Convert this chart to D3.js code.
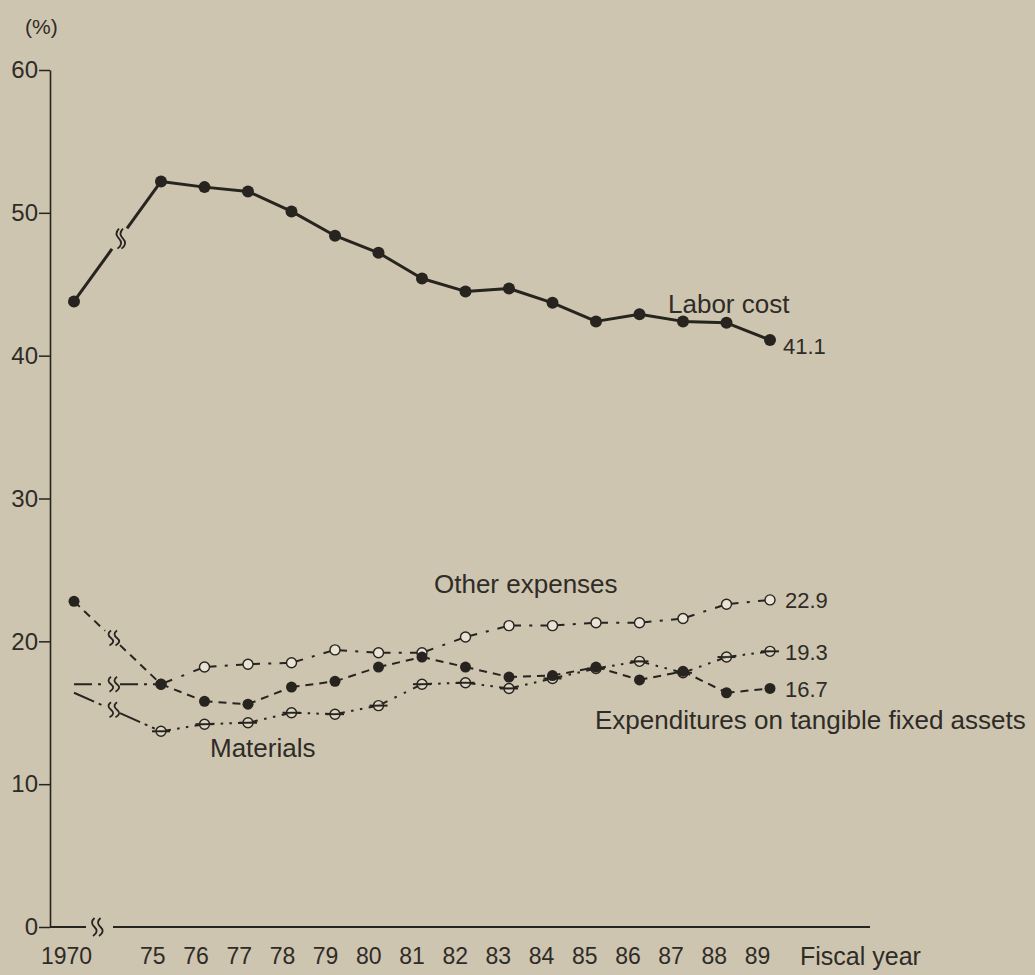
<!DOCTYPE html>
<html>
<head>
<meta charset="utf-8">
<script src="https://cdn.jsdelivr.net/npm/d3@7"></script>
<style>body{margin:0;background:#cdc5b0;}</style>
</head>
<body>
<svg id="chart" width="1035" height="975"></svg>
<script>
// ---- data ----
const years = ["1970","75","76","77","78","79","80","81","82","83","84","85","86","87","88","89"];
const laborCost     = [43.8, 52.2, 51.8, 51.5, 50.1, 48.4, 47.2, 45.4, 44.5, 44.7, 43.7, 42.4, 42.9, 42.4, 42.3, 41.1];
const otherExpenses = [17.0, 17.0, 18.2, 18.4, 18.5, 19.4, 19.2, 19.2, 20.3, 21.1, 21.1, 21.3, 21.3, 21.6, 22.6, 22.9];
const materials     = [16.4, 13.7, 14.2, 14.3, 15.0, 14.9, 15.5, 17.0, 17.1, 16.7, 17.4, 18.1, 18.6, 17.8, 18.9, 19.3];
const tangibleAssets= [22.8, 17.0, 15.8, 15.6, 16.8, 17.2, 18.2, 18.9, 18.2, 17.5, 17.6, 18.2, 17.3, 17.9, 16.4, 16.7];
const yTicks = [0, 10, 20, 30, 40, 50, 60];
const seriesNames = ["Labor cost", "Other expenses", "Materials", "Expenditures on tangible fixed assets"];
const endLabels = ["41.1", "22.9", "19.3", "16.7"];
const yUnit = "(%)";
const xTitle = "Fiscal year";

// ---- style ----
const BG = "#cdc5b0", INK = "#27231f", TXT = "#2f2b27", OPEN = "#e8e3d4";
const FONT = "'Liberation Sans', Arial, Helvetica, sans-serif";

const svg = d3.select("#chart");
svg.append("rect").attr("width", 1035).attr("height", 975).attr("fill", BG);

// slot: 1970 sits before a compressed break
const slot = i => (i === 0 ? -2 : i - 1);
const x = d3.scaleLinear().domain([-2, 14]).range([74, 770]);
const xl = d3.scaleLinear().domain([-2, 14]).range([66, 757]);
const y = d3.scaleLinear().domain([0, 60]).range([927, 70]);

// ---- y axis ----
const ya = svg.append("g").attr("transform", "translate(50,0)")
  .call(d3.axisLeft(y).tickValues(yTicks).tickSize(11).tickSizeOuter(0).tickPadding(1));
ya.select(".domain").attr("stroke", INK).attr("stroke-width", 1.6);
ya.selectAll(".tick line").attr("stroke", INK).attr("stroke-width", 1.5);
ya.selectAll(".tick text").attr("font-family", FONT).attr("font-size", 24).attr("fill", TXT);

svg.append("text").attr("x", 25).attr("y", 34).text(yUnit)
  .attr("font-family", FONT).attr("font-size", 21).attr("fill", TXT);

// ---- break marks ----
function breakMark(g, cx, cy, h, sp, w) {
  [-sp / 2, sp / 2].forEach(o => {
    const x0 = cx + o;
    g.append("path")
      .attr("d", `M${x0 + 1.5},${cy - h / 2} q${-5},${h / 4} 0,${h / 2} q5,${h / 4} ${-1.5},${h / 2}`)
      .attr("fill", "none").attr("stroke", INK).attr("stroke-width", w || 1.8);
  });
}

// ---- x axis (line with break) ----
const axG = svg.append("g");
axG.append("path").attr("d", `M50,${y(0)}H86M113,${y(0)}H870`)
  .attr("stroke", INK).attr("stroke-width", 2).attr("fill", "none");
breakMark(axG, 96, y(0), 18, 6, 1.8);

const xa = svg.append("g").attr("transform", `translate(0,${y(0)})`)
  .call(d3.axisBottom(xl).tickValues(years.map((d, i) => slot(i)))
    .tickFormat((d, i) => years[i]).tickSize(0).tickPadding(21));
xa.select(".domain").remove();
xa.selectAll(".tick text").attr("font-family", FONT).attr("font-size", 23).attr("fill", TXT);

svg.append("text").attr("x", 800).attr("y", 965).text(xTitle)
  .attr("font-family", FONT).attr("font-size", 25).attr("fill", TXT);

// ---- series ----
function segDash(L, kind) {
  if (kind === "dashdot") {
    const d = 12, dot = 3, g = Math.max(2, (L - 2 * d - dot) / 2);
    return [d, g, dot, g, d, 40].join(",");
  }
  if (kind === "dashdotdot") {
    const d = 10, dot = 2.5, g = Math.max(2, (L - 2 * d - 2 * dot) / 3);
    return [d, g, dot, g, dot, g, d, 40].join(",");
  }
  if (kind === "dash") return "8,6";
  return null;
}

function drawSeries(vals, opt) {
  const g = svg.append("g");
  const pts = vals.map((v, i) => [x(slot(i)), y(v)]);
  const p0 = pts[0], p1 = pts[1];
  const at = xx => { const t = (xx - p0[0]) / (p1[0] - p0[0]); return [xx, p0[1] + t * (p1[1] - p0[1])]; };
  const a = at(opt.gapL), b = at(opt.gapR), m = at((opt.gapL + opt.gapR) / 2);
  const line = d3.line();
  [[p0, a], [b, p1]].forEach(seg => {
    g.append("path").attr("d", line(seg)).attr("fill", "none")
      .attr("stroke", INK).attr("stroke-width", opt.w)
      .attr("stroke-dasharray", opt.firstDash);
  });
  breakMark(g, m[0], m[1], opt.bh, opt.bsp, 1.8);
  if (opt.kind === "solid") {
    g.append("path").attr("d", line(pts.slice(1))).attr("fill", "none")
      .attr("stroke", INK).attr("stroke-width", opt.w).attr("stroke-linejoin", "round");
  } else {
    for (let i = 1; i < pts.length - 1; i++) {
      const s = pts[i], e = pts[i + 1];
      const L = Math.hypot(e[0] - s[0], e[1] - s[1]);
      g.append("path").attr("d", line([s, e])).attr("fill", "none")
        .attr("stroke", INK).attr("stroke-width", opt.w)
        .attr("stroke-dasharray", segDash(L, opt.kind));
    }
  }
  const mk = pts.map((p, i) => ({ p, i })).filter(d => !(opt.skipFirst && d.i === 0));
  if (opt.marker === "filled") {
    g.selectAll("circle.m").data(mk).join("circle")
      .attr("cx", d => d.p[0]).attr("cy", d => d.p[1]).attr("r", opt.r).attr("fill", INK);
  } else {
    if (opt.marker === "bar") {
      g.selectAll("line.m").data(mk).join("line")
        .attr("x1", d => d.p[0] - 9).attr("x2", d => d.p[0] + 9)
        .attr("y1", d => d.p[1]).attr("y2", d => d.p[1])
        .attr("stroke", INK).attr("stroke-width", 2);
    }
    g.selectAll("circle.m").data(mk).join("circle")
      .attr("cx", d => d.p[0]).attr("cy", d => d.p[1]).attr("r", opt.r)
      .attr("fill", opt.marker === "bar" ? "rgba(232,227,212,0.55)" : OPEN)
      .attr("stroke", INK).attr("stroke-width", 1.4);
    if (opt.marker === "bar") {
      g.selectAll("line.m2").data(mk).join("line")
        .attr("x1", d => d.p[0] - 5).attr("x2", d => d.p[0] + 5)
        .attr("y1", d => d.p[1]).attr("y2", d => d.p[1])
        .attr("stroke", INK).attr("stroke-width", 1.6);
    }
  }
  return pts;
}

const lp = drawSeries(laborCost, { kind: "solid", w: 3, firstDash: null, gapL: 112, gapR: 127, bh: 20, bsp: 4, marker: "filled", r: 6 });
const op = drawSeries(otherExpenses, { kind: "dashdot", w: 2, firstDash: "18,6,3,6", gapL: 105, gapR: 120, bh: 15, bsp: 6, marker: "open", r: 5, skipFirst: true });
const mp = drawSeries(materials, { kind: "dashdotdot", w: 2, firstDash: "22,5,3,5,3,5", gapL: 105, gapR: 120, bh: 15, bsp: 6, marker: "bar", r: 5, skipFirst: true });
const tp = drawSeries(tangibleAssets, { kind: "dash", w: 2, firstDash: "8,6", gapL: 105, gapR: 120, bh: 15, bsp: 6, marker: "filled", r: 5.5 });

// ---- labels ----
const lab = (t, xx, yy, fs) => svg.append("text").attr("x", xx).attr("y", yy).text(t)
  .attr("font-family", FONT).attr("font-size", fs).attr("fill", TXT);

const last = laborCost.length - 1;
lab(endLabels[0], lp[last][0] + 13, lp[last][1] + 14, 22);
lab(endLabels[1], op[last][0] + 15, op[last][1] + 8, 22);
lab(endLabels[2], mp[last][0] + 15, mp[last][1] + 9, 22);
lab(endLabels[3], tp[last][0] + 15, tp[last][1] + 9, 22);

lab(seriesNames[0], 668, 313, 26);
lab(seriesNames[1], 434, 593, 26);
lab(seriesNames[2], 210, 757, 26);
lab(seriesNames[3], 595, 729, 26);
</script>
</body>
</html>
